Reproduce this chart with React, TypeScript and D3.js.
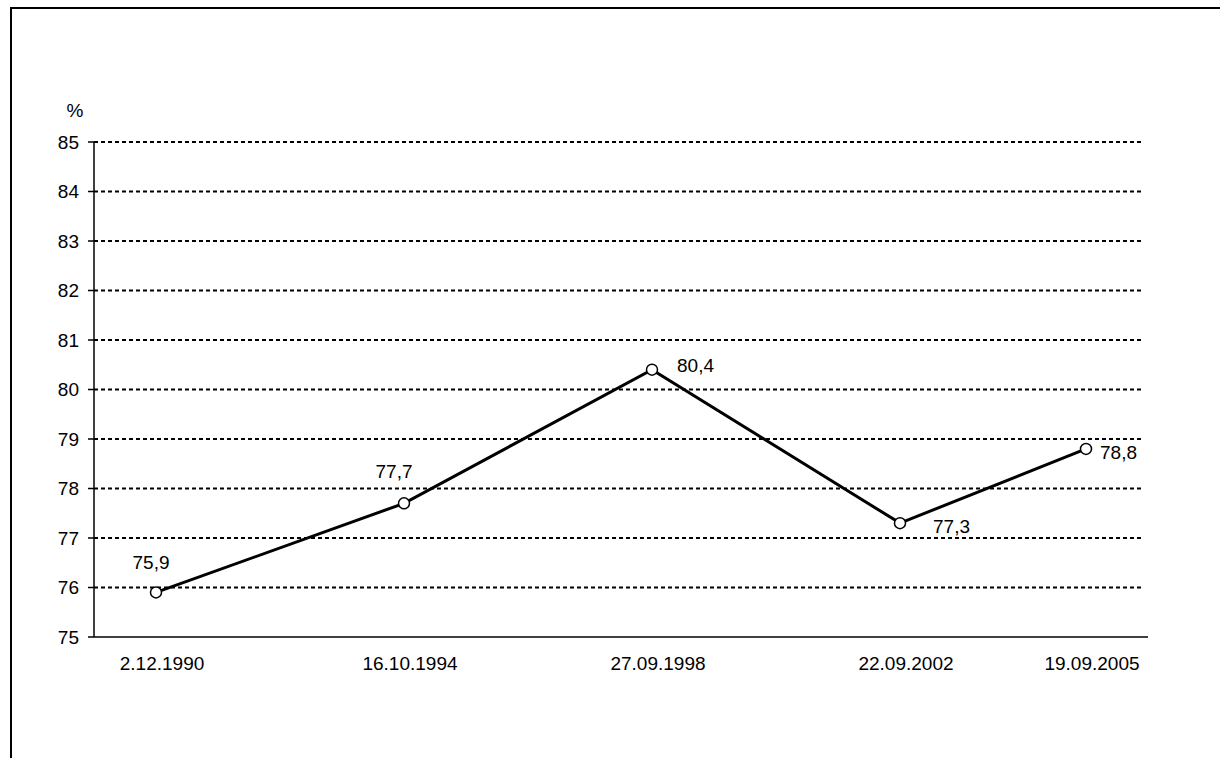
import * as d3 from "d3";

const dates = ["2.12.1990", "16.10.1994", "27.09.1998", "22.09.2002", "19.09.2005"];
const values = [75.9, 77.7, 80.4, 77.3, 78.8];
const yTicks = [75, 76, 77, 78, 79, 80, 81, 82, 83, 84, 85];

// label placement relative to each point: [dx, dy, anchor]
const labelPlace: [number, number, "start" | "middle"][] = [
  [-5, -30, "middle"],
  [-10, -32, "middle"],
  [25, -4, "start"],
  [33, 3, "start"],
  [14, 3, "start"],
];

const W = 1220;
const H = 758;
const font = "Arial, 'Liberation Sans', sans-serif";
const fs = 19;

export default function App() {
  const yearOf = (s: string) => +s.split(".")[2];

  const x = d3.scaleLinear().domain([1989, 2006]).range([94, 1148]);
  const y = d3.scaleLinear().domain([75, 85]).range([637, 142]);

  const pts: [number, number][] = dates.map((d, i) => [x(yearOf(d)), y(values[i])]);
  const line = d3.line<[number, number]>().x(d => d[0]).y(d => d[1]);

  const fmt = (v: number) => v.toFixed(1).replace(".", ",");

  return (
    <svg
      width={W}
      height={H}
      style={{ position: "absolute", left: 0, top: 0, background: "#fff" }}
      fontFamily={font}
    >
      {/* outer frame, runs off the page on the right and bottom */}
      <rect x={11} y={8} width={1300} height={900} fill="none" stroke="#000" strokeWidth={2} />

      {/* grid */}
      <g stroke="#000" strokeWidth={2} strokeDasharray="4,3">
        {yTicks.slice(1).map(t => (
          <line key={t} x1={x.range()[0]} x2={1143} y1={y(t)} y2={y(t)} />
        ))}
      </g>

      {/* axes */}
      <line x1={94} x2={94} y1={y(85)} y2={y(75)} stroke="#000" strokeWidth={1.5} />
      <line x1={94} x2={1148} y1={y(75)} y2={y(75)} stroke="#000" strokeWidth={1.5} />
      {yTicks.map(t => (
        <g key={t}>
          <line x1={88} x2={94} y1={y(t)} y2={y(t)} stroke="#000" strokeWidth={1.5} />
          <text x={79} y={y(t)} dy="0.35em" textAnchor="end" fontSize={fs}>
            {t}
          </text>
        </g>
      ))}
      <text x={75} y={110} dy="0.35em" textAnchor="middle" fontSize={fs}>
        %
      </text>

      {dates.map(d => (
        <text key={d} x={x(yearOf(d)) + 6} y={663} dy="0.35em" textAnchor="middle" fontSize={fs}>
          {d}
        </text>
      ))}

      {/* series */}
      <path d={line(pts) || undefined} fill="none" stroke="#000" strokeWidth={3} />
      {pts.map(([px, py], i) => (
        <circle key={i} cx={px} cy={py} r={5.5} fill="#fff" stroke="#000" strokeWidth={1.5} />
      ))}
      {pts.map(([px, py], i) => {
        const [dx, dy, anchor] = labelPlace[i];
        return (
          <text key={i} x={px + dx} y={py + dy} dy="0.35em" textAnchor={anchor} fontSize={fs}>
            {fmt(values[i])}
          </text>
        );
      })}
    </svg>
  );
}
